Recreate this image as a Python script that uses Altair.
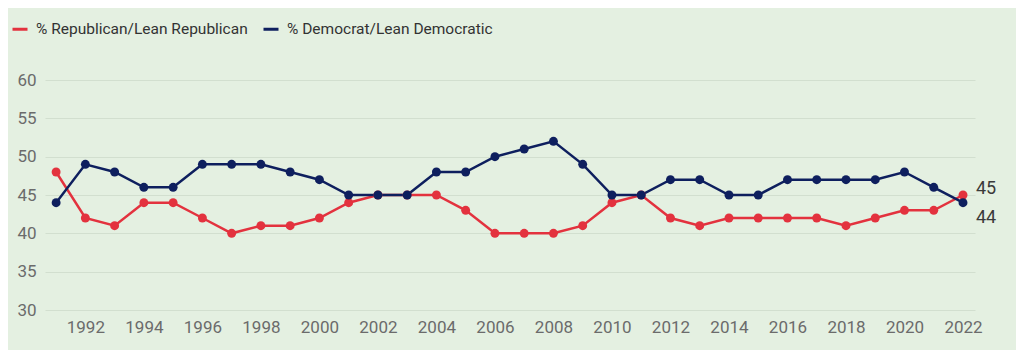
import altair as alt
import pandas as pd

years = list(range(1991, 2023))
republican = [48, 42, 41, 44, 44, 42, 40, 41, 41, 42, 44, 45, 45, 45, 43, 40,
              40, 40, 41, 44, 45, 42, 41, 42, 42, 42, 42, 41, 42, 43, 43, 45]
democrat = [44, 49, 48, 46, 46, 49, 49, 49, 48, 47, 45, 45, 45, 48, 48, 50,
            51, 52, 49, 45, 45, 47, 47, 45, 45, 47, 47, 47, 47, 48, 46, 44]
series_names = ["% Republican/Lean Republican", "% Democrat/Lean Democratic"]
series_colors = ["#e3323e", "#0e1f5e"]
x_ticks = list(range(1992, 2023, 2))
y_ticks = [30, 35, 40, 45, 50, 55, 60]

rows = []
for i, y in enumerate(years):
    rows.append({"year": y, "series": series_names[0], "value": republican[i]})
    rows.append({"year": y, "series": series_names[1], "value": democrat[i]})
df = pd.DataFrame(rows)

FONT = "Roboto"

x_enc = alt.X("year:Q",
              scale=alt.Scale(domain=[1990.62, 2022.41], nice=False, zero=False),
              axis=alt.Axis(values=x_ticks, format="d", title=None, grid=False,
                            domain=False, ticks=False, labelFontSize=17,
                            labelColor="#6b6b6b", labelPadding=9, labelFont=FONT,
                            labelOverlap=False))
y_enc = alt.Y("value:Q",
              scale=alt.Scale(domain=[30, 60], nice=False, zero=False),
              axis=alt.Axis(values=y_ticks, title=None, grid=True, gridColor="#d2dfcf",
                            gridWidth=1, domain=False, ticks=False, labelFontSize=17,
                            labelColor="#6b6b6b", labelPadding=9, labelFont=FONT,
                            labelOverlap=False))
color_scale = alt.Scale(domain=series_names, range=series_colors)
color_enc = alt.Color("series:N", scale=color_scale,
                      legend=alt.Legend(title=None, orient="none", direction="horizontal",
                                        legendX=-34, legendY=-60, symbolType="stroke",
                                        symbolStrokeWidth=3, symbolSize=225,
                                        labelFontSize=15.5, labelColor="#333333",
                                        labelFont=FONT, columnPadding=9, labelOffset=7,
                                        labelLimit=500))

base = alt.Chart(df)
lines = base.mark_line(strokeWidth=2.5).encode(x=x_enc, y=y_enc, color=color_enc,
                                               order="year:Q")
points = base.mark_circle(size=80, opacity=1).encode(x=x_enc, y=y_enc, color=color_enc)

last = df[df["year"] == years[-1]]
rep_label = alt.Chart(last[last["series"] == series_names[0]]).mark_text(
    align="left", dx=13, dy=-6, fontSize=18, color="#3a3a3a", font=FONT
).encode(x=x_enc, y=y_enc, text="value:Q")
dem_label = alt.Chart(last[last["series"] == series_names[1]]).mark_text(
    align="left", dx=13, dy=15, fontSize=18, color="#3a3a3a", font=FONT
).encode(x=x_enc, y=y_enc, text="value:Q")

chart = alt.layer(lines, points, rep_label, dem_label).properties(
    width=930, height=230,
    autosize=alt.AutoSizeParams(type="none"),
    padding={"left": 37, "top": 72, "right": 41, "bottom": 40},
    background="#e4f0e1",
).configure_view(stroke=None)

chart.save("out.html", embed_options={"renderer": "svg", "actions": False})
